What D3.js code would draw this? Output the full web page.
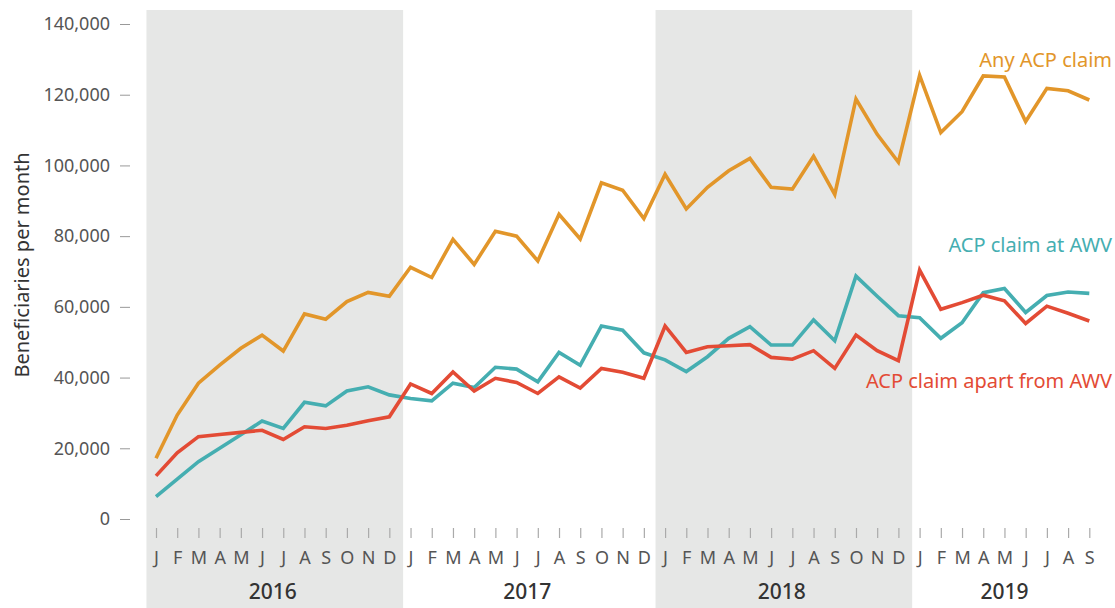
<!DOCTYPE html>
<html>
<head>
<meta charset="utf-8">
<script src="https://cdn.jsdelivr.net/npm/d3@7"></script>
<style>
  body { margin: 0; background: #fff; }
  text { font-family: "Noto Sans", "Open Sans", sans-serif; }
</style>
</head>
<body>
<script>
// months Jan 2016 .. Sep 2019
const years = [2016, 2017, 2018, 2019];
const monthLetters = ["J","F","M","A","M","J","J","A","S","O","N","D"];
const shadedYears = [2016, 2018];
const yTicks = [0, 20000, 40000, 60000, 80000, 100000, 120000, 140000];

const anyClaim = [
  17200, 29400, 38400, 43500, 48300, 52000, 47500, 58000, 56500, 61500, 64100, 63000,
  71200, 68300, 79100, 72000, 81400, 80000, 73000, 86200, 79200, 95100, 93000, 85000,
  97500, 87700, 93800, 98500, 102000, 93800, 93300, 102600, 91800, 118800, 108800, 100900,
  125500, 109300, 115200, 125300, 125000, 112400, 121800, 121100, 118500
];
const atAWV = [
  6300, 11300, 16200, 20000, 23800, 27700, 25600, 33000, 32000, 36200, 37400, 35100,
  34100, 33400, 38400, 37200, 42900, 42400, 38800, 47100, 43500, 54600, 53400, 47000,
  45000, 41700, 45900, 51100, 54400, 49200, 49200, 56300, 50400, 68700, 63000, 57500,
  56900, 51100, 55500, 64000, 65200, 58400, 63200, 64200, 63800
];
const apartAWV = [
  12200, 18700, 23300, 23900, 24500, 25100, 22500, 26100, 25600, 26500, 27800, 28900,
  38200, 35500, 41600, 36200, 39800, 38600, 35500, 40200, 37000, 42600, 41500, 39800,
  54600, 47100, 48700, 49000, 49300, 45700, 45200, 47600, 42600, 52000, 47600, 44800,
  70400, 59300, 61200, 63300, 61700, 55300, 60200, 58200, 56000
];

const series = [
  {name: "Any ACP claim", values: anyClaim, color: "#E2962A", labelY: 67},
  {name: "ACP claim at AWV", values: atAWV, color: "#45AEB1", labelY: 252},
  {name: "ACP claim apart from AWV", values: apartAWV, color: "#E34B35", labelY: 388}
];

const W = 1115, H = 608;
const svg = d3.select("body").append("svg")
  .attr("width", W)
  .attr("height", H);

const n = anyClaim.length;
const x = d3.scaleLinear().domain([0, n - 1]).range([156, 1089.3]);
const step = x(1) - x(0);
const y = d3.scaleLinear().domain([0, 140000]).range([519, 24]);

// grey year bands
shadedYears.forEach(function(yr){
  const i0 = (yr - 2016) * 12;
  svg.append("rect")
    .attr("x", x(i0) - step * 0.45)
    .attr("y", 10)
    .attr("width", step * 12.1)
    .attr("height", H - 10)
    .attr("fill", "#E6E7E6");
});

// y axis
const yAxis = svg.append("g").attr("transform", "translate(130,0)")
  .call(d3.axisLeft(y).tickValues(yTicks).tickSize(10).tickPadding(10).tickFormat(d3.format(",")));
yAxis.select(".domain").remove();
yAxis.selectAll(".tick line").attr("stroke", "#999").attr("stroke-width", 1);
yAxis.selectAll(".tick text").attr("fill", "#555").style("font-size", "18px");

svg.append("text")
  .attr("transform", "translate(29,265) rotate(-90)")
  .attr("text-anchor", "middle")
  .attr("fill", "#333")
  .style("font-size", "20px")
  .text("Beneficiaries per month");

// month ticks and letters
const idx = d3.range(n);
const xAxis = svg.append("g").attr("transform", "translate(0,528)")
  .call(d3.axisBottom(x).tickValues(idx).tickSize(10).tickPadding(13)
    .tickFormat(function(d){ return monthLetters[d % 12]; }));
xAxis.select(".domain").remove();
xAxis.selectAll(".tick line").attr("stroke", "#aaa").attr("stroke-width", 1.2);
xAxis.selectAll(".tick text").attr("fill", "#555").style("font-size", "18px");

// year labels
svg.selectAll(".year").data(years).enter().append("text")
  .attr("class", "year")
  .attr("x", function(d){
    const i0 = (d - 2016) * 12;
    const i1 = Math.min(i0 + 11, n - 1);
    return (x(i0) + x(i1)) / 2;
  })
  .attr("y", 599)
  .attr("text-anchor", "middle")
  .attr("fill", "#333")
  .style("font-size", "21px")
  .style("font-weight", 500)
  .text(function(d){ return d; });

// lines
const line = d3.line()
  .x(function(d, i){ return x(i); })
  .y(function(d){ return y(d); });

svg.selectAll(".series").data(series).enter().append("path")
  .attr("class", "series")
  .attr("d", function(d){ return line(d.values); })
  .attr("fill", "none")
  .attr("stroke", function(d){ return d.color; })
  .attr("stroke-width", 3.6)
  .attr("stroke-linejoin", "miter");

svg.selectAll(".slabel").data(series).enter().append("text")
  .attr("class", "slabel")
  .attr("x", 1112)
  .attr("y", function(d){ return d.labelY; })
  .attr("text-anchor", "end")
  .attr("fill", function(d){ return d.color; })
  .style("font-size", "20px")
  .text(function(d){ return d.name; });
</script>
</body>
</html>
